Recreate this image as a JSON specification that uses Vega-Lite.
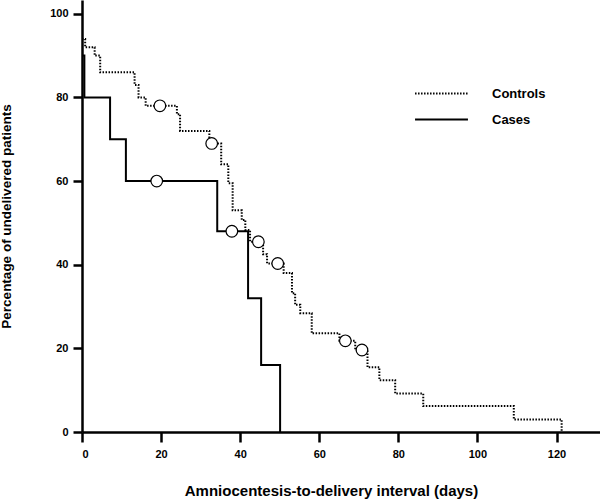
{
  "$schema": "https://vega.github.io/schema/vega-lite/v6.json",
  "width": 518,
  "height": 432,
  "autosize": {"type": "none"},
  "padding": {"left": 82, "top": 0, "right": 0, "bottom": 67},
  "background": "white",
  "datasets": {
    "km": [
      {"group": "Controls", "day": 0, "pct": 94},
      {"group": "Controls", "day": 0.8, "pct": 92},
      {"group": "Controls", "day": 3.2, "pct": 90},
      {"group": "Controls", "day": 4.6, "pct": 86},
      {"group": "Controls", "day": 13.3, "pct": 83},
      {"group": "Controls", "day": 14.3, "pct": 80},
      {"group": "Controls", "day": 16.1, "pct": 78},
      {"group": "Controls", "day": 24, "pct": 76},
      {"group": "Controls", "day": 24.8, "pct": 72},
      {"group": "Controls", "day": 32.2, "pct": 69},
      {"group": "Controls", "day": 35.2, "pct": 64},
      {"group": "Controls", "day": 37, "pct": 59.5},
      {"group": "Controls", "day": 38.1, "pct": 53},
      {"group": "Controls", "day": 40.4, "pct": 50.7},
      {"group": "Controls", "day": 41.3, "pct": 48.3},
      {"group": "Controls", "day": 42.5, "pct": 45.5},
      {"group": "Controls", "day": 45.8, "pct": 42.5},
      {"group": "Controls", "day": 46.8, "pct": 40.3},
      {"group": "Controls", "day": 51, "pct": 38},
      {"group": "Controls", "day": 53.1, "pct": 33.2},
      {"group": "Controls", "day": 53.9, "pct": 30.4},
      {"group": "Controls", "day": 55.2, "pct": 28.4},
      {"group": "Controls", "day": 58.1, "pct": 23.6},
      {"group": "Controls", "day": 65.1, "pct": 21.8},
      {"group": "Controls", "day": 69.1, "pct": 19.6},
      {"group": "Controls", "day": 72.2, "pct": 15.5},
      {"group": "Controls", "day": 75.2, "pct": 12.4},
      {"group": "Controls", "day": 79.2, "pct": 9.2},
      {"group": "Controls", "day": 86.3, "pct": 6.2},
      {"group": "Controls", "day": 109.2, "pct": 3},
      {"group": "Controls", "day": 121.3, "pct": 0},
      {"group": "Cases", "day": 0, "pct": 90},
      {"group": "Cases", "day": 0.6, "pct": 80},
      {"group": "Cases", "day": 7.1, "pct": 70},
      {"group": "Cases", "day": 11.1, "pct": 60},
      {"group": "Cases", "day": 34.2, "pct": 48},
      {"group": "Cases", "day": 42, "pct": 32},
      {"group": "Cases", "day": 45.3, "pct": 16},
      {"group": "Cases", "day": 50.1, "pct": 0}
    ],
    "censored": [
      {"group": "Controls", "day": 19.7, "pct": 78},
      {"group": "Controls", "day": 32.8, "pct": 69},
      {"group": "Controls", "day": 44.6, "pct": 45.5},
      {"group": "Controls", "day": 49.5, "pct": 40.3},
      {"group": "Controls", "day": 66.6, "pct": 21.8},
      {"group": "Controls", "day": 70.8, "pct": 19.6},
      {"group": "Cases", "day": 18.9, "pct": 60},
      {"group": "Cases", "day": 37.9, "pct": 48}
    ]
  },
  "encoding": {
    "x": {
      "field": "day",
      "type": "quantitative",
      "scale": {"domain": [0, 131], "nice": false, "zero": false},
      "axis": {
        "title": "Amniocentesis-to-delivery interval (days)",
        "values": [0, 20, 40, 60, 80, 100, 120],
        "tickSize": 10,
        "labelPadding": 6,
        "titleX": 249,
        "titleY": 58,
        "titleAlign": "center",
        "titleBaseline": "middle",
        "titleFontSize": 15
      }
    },
    "y": {
      "field": "pct",
      "type": "quantitative",
      "scale": {"domain": [0, 103.3], "nice": false},
      "axis": {
        "title": "Percentage of undelivered patients",
        "values": [0, 20, 40, 60, 80, 100],
        "tickSize": 9,
        "labelPadding": 5,
        "titleX": -76,
        "titleY": 216,
        "titleAngle": -90,
        "titleAlign": "center",
        "titleBaseline": "middle",
        "titleFontSize": 13.5
      }
    }
  },
  "layer": [
    {
      "data": {"name": "km"},
      "mark": {"type": "line", "interpolate": "step-after", "color": "black", "strokeWidth": 2},
      "encoding": {
        "strokeDash": {
          "field": "group",
          "type": "nominal",
          "scale": {"domain": ["Controls", "Cases"], "range": [[1.5, 1.5], [1, 0]]},
          "legend": {
            "title": null,
            "orient": "none",
            "legendX": 353,
            "legendY": 87,
            "symbolType": "M-5,0H5",
            "symbolSize": 112,
            "symbolStrokeWidth": 2,
            "symbolStrokeColor": "black",
            "labelOffset": 44,
            "rowPadding": 12,
            "padding": 0,
            "labelFont": "Liberation Sans",
            "labelFontWeight": "bold",
            "labelFontSize": 13,
            "labelColor": "black"
          }
        }
      }
    },
    {
      "data": {"name": "censored"},
      "mark": {"type": "point", "shape": "circle", "filled": false, "fill": "white", "fillOpacity": 1, "stroke": "black", "strokeWidth": 1.2, "size": 135, "opacity": 1}
    }
  ],
  "config": {
    "view": {"stroke": null},
    "font": "Liberation Sans",
    "axis": {
      "grid": false,
      "domainColor": "black",
      "domainWidth": 2.5,
      "tickColor": "black",
      "tickWidth": 2.5,
      "labelFont": "Liberation Sans",
      "labelFontWeight": "bold",
      "labelFontSize": 11,
      "labelColor": "black",
      "titleFont": "Liberation Sans",
      "titleFontWeight": "bold",
      "titleColor": "black"
    }
  }
}
